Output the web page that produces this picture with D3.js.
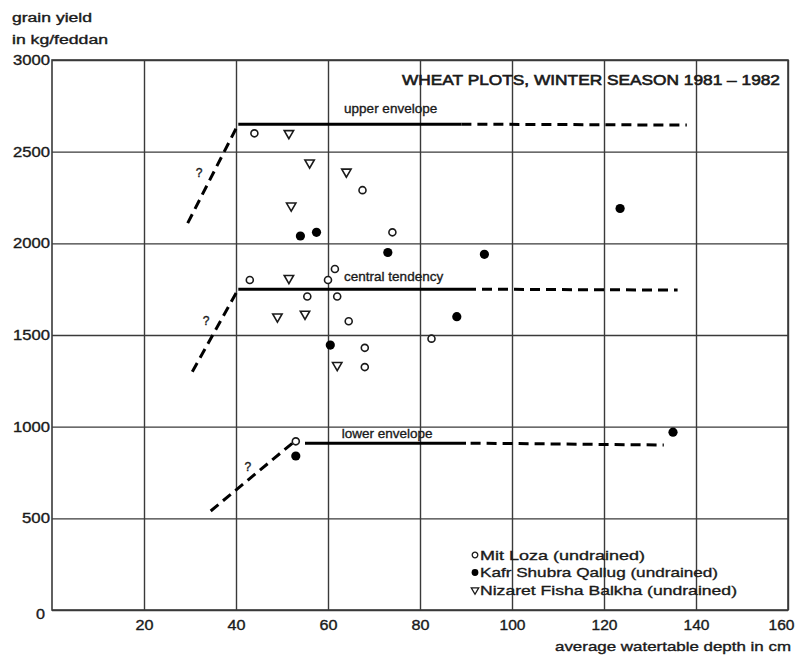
<!DOCTYPE html>
<html>
<head>
<meta charset="utf-8">
<script src="https://cdn.jsdelivr.net/npm/d3@7"></script>
<style>
  html, body { margin: 0; padding: 0; background: #fff; }
  svg { display: block; font-family: "Liberation Sans", Arial, Helvetica, sans-serif; }
  text { stroke: #1a1a1a; stroke-width: 0.35px; }
</style>
</head>
<body>
<svg id="chart" width="795" height="655"></svg>
<script>
// ---------- data ----------
const xTicks = [20, 40, 60, 80, 100, 120, 140, 160];
const yTicks = [0, 500, 1000, 1500, 2000, 2500, 3000];

// [watertable depth (cm), grain yield (kg/feddan)]
const mitLoza = [[44,2600],[67.5,2290],[74,2060],[43,1800],[60,1800],[61.5,1860],[55.5,1710],
                 [62,1710],[64.5,1575],[82.5,1480],[68,1430],[68,1325],[53,920]];
const kafrShubra = [[54,2040],[57.5,2060],[73,1950],[94,1940],[123.5,2190],[88,1600],
                    [60.5,1445],[53,840],[135,970]];
const nizaret = [[51.5,2600],[56,2440],[64,2390],[52,2205],[51.5,1810],[49,1600],[55,1615],[62,1335]];

const upperRise = [[29.5,2110],[40.5,2650]];
const upperSolid = [[40.5,2650],[89,2650]];
const upperDash = [[89,2650],[138,2645]];
const centralRise = [[30.5,1300],[40.5,1750]];
const centralSolid = [[40.5,1750],[90,1750]];
const centralDash = [[90,1750],[136,1745]];
const lowerRise = [[34.5,540],[52.5,915]];
const lowerSolid = [[55,910],[90,910]];
const lowerDash = [[91,910],[133,900]];

const envelopeLabels = [["upper envelope",63.5,2712],["central tendency",63.5,1795],["lower envelope",63,940]];
const questionMarks = [[32,2385],[33.5,1575],[42.6,783]];
const legendItems = ["Mit Loza (undrained)","Kafr Shubra Qallug (undrained)","Nizaret Fisha Balkha (undrained)"];

// ---------- layout ----------
const svg = d3.select("#chart");
const x = d3.scaleLinear().domain([0,160]).range([52,788]);
const y = d3.scaleLinear().domain([0,3000]).range([610,60]);
const ink = "#1a1a1a", gridC = "#3a3a3a";

// gridlines + labels via axes
const xAxis = d3.axisBottom(x).tickValues(xTicks).tickSize(-(610-60)).tickPadding(10).tickFormat(d3.format("d"));
const gx = svg.append("g").attr("transform","translate(0,610)").call(xAxis);
gx.select(".domain").remove();
gx.selectAll(".tick line").attr("stroke",gridC).attr("stroke-width",1.4);
gx.selectAll(".tick text").attr("fill",ink).attr("font-size",14).attr("textLength",26).attr("lengthAdjust","spacingAndGlyphs");
gx.selectAll(".tick text").filter(d=>d<100).attr("textLength",18);
gx.selectAll(".tick text").filter(d=>d===160).attr("text-anchor","end").attr("dx",6);

const yAxis = d3.axisLeft(y).tickValues(yTicks).tickSize(-(788-52)).tickPadding(2).tickFormat(d3.format("d"));
const gy = svg.append("g").attr("transform","translate(52,0)").call(yAxis);
gy.select(".domain").remove();
gy.selectAll(".tick line").attr("stroke",gridC).attr("stroke-width",1.4);
gy.selectAll(".tick text").attr("fill",ink).attr("font-size",14)
  .attr("textLength",d=>d>=1000?37:(d>=500?28:9)).attr("lengthAdjust","spacingAndGlyphs");
gy.selectAll(".tick").filter(d=>d===0).select("text").attr("dx",-5).attr("dy","0.6em");

// frame
svg.append("rect").attr("x",x(0)).attr("y",y(3000)).attr("width",x(160)-x(0)).attr("height",y(0)-y(3000))
  .attr("fill","none").attr("stroke",gridC).attr("stroke-width",1.6);

// envelopes
const line = d3.line().x(d=>x(d[0])).y(d=>y(d[1]));
function seg(data, dashed) {
  svg.append("path").attr("d",line(data)).attr("fill","none").attr("stroke","#000")
    .attr("stroke-width",3).attr("stroke-dasharray",dashed?"10,6":null);
}
seg(upperRise,true); seg(upperSolid,false); seg(upperDash,true);
seg(centralRise,true); seg(centralSolid,false); seg(centralDash,true);
seg(lowerRise,true); seg(lowerSolid,false); seg(lowerDash,true);

// labels on envelopes
svg.selectAll(".envlab").data(envelopeLabels).join("text")
  .attr("x",d=>x(d[1])).attr("y",d=>y(d[2])).attr("font-size",13.5).attr("fill",ink).text(d=>d[0]);
svg.selectAll(".qm").data(questionMarks).join("text")
  .attr("x",d=>x(d[0])).attr("y",d=>y(d[1])).attr("font-size",12).attr("fill",ink)
  .attr("text-anchor","middle").attr("dy","0.35em").text("?");

// markers
const tri = d3.symbol().type(d3.symbolTriangle).size(38);
function openCircle(g){ g.append("circle").attr("r",3.5).attr("fill","#fff").attr("stroke",ink).attr("stroke-width",1.6); }
function filledCircle(g){ g.append("circle").attr("r",4.6).attr("fill","#000"); }
function triangle(g){ g.append("path").attr("d",tri()).attr("transform","rotate(180)").attr("fill","#fff").attr("stroke",ink).attr("stroke-width",1.6); }

svg.selectAll(".ml").data(mitLoza).join("g").attr("transform",d=>`translate(${x(d[0])},${y(d[1])})`).call(openCircle);
svg.selectAll(".ks").data(kafrShubra).join("g").attr("transform",d=>`translate(${x(d[0])},${y(d[1])})`).call(filledCircle);
svg.selectAll(".nz").data(nizaret).join("g").attr("transform",d=>`translate(${x(d[0])},${y(d[1])})`).call(triangle);

// title
svg.append("text").attr("x",402).attr("y",85).attr("font-size",14.5).attr("fill",ink).style("stroke-width","0.6px")
  .attr("textLength",378).attr("lengthAdjust","spacingAndGlyphs").text("WHEAT PLOTS, WINTER SEASON 1981 – 1982");

// axis titles
svg.append("text").attr("x",12).attr("y",22).attr("font-size",12).attr("fill",ink)
  .attr("textLength",80).attr("lengthAdjust","spacingAndGlyphs").text("grain yield");
svg.append("text").attr("x",12).attr("y",44).attr("font-size",12).attr("fill",ink)
  .attr("textLength",96).attr("lengthAdjust","spacingAndGlyphs").text("in kg/feddan");
svg.append("text").attr("x",555).attr("y",651).attr("font-size",13).attr("fill",ink)
  .attr("textLength",236).attr("lengthAdjust","spacingAndGlyphs").text("average watertable depth in cm");

// legend
const legEnds = [645,718,737];
const lg = svg.append("g");
legendItems.forEach((t,i)=>{
  const gy0 = 555 + i*17.5;
  const m = lg.append("g").attr("transform",`translate(475,${gy0})`);
  if(i===0) m.append("circle").attr("r",2.8).attr("fill","#fff").attr("stroke",ink).attr("stroke-width",1.3);
  if(i===1) m.append("circle").attr("r",3.4).attr("fill","#000");
  if(i===2) m.append("path").attr("d",d3.symbol().type(d3.symbolTriangle).size(24)()).attr("transform","rotate(180)").attr("fill","#fff").attr("stroke",ink).attr("stroke-width",1.3);
  lg.append("text").attr("x",480).attr("y",gy0).attr("dy","0.35em").attr("font-size",13.5).attr("fill",ink)
    .attr("textLength",legEnds[i]-480).attr("lengthAdjust","spacingAndGlyphs").text(t);
});
</script>
</body>
</html>
